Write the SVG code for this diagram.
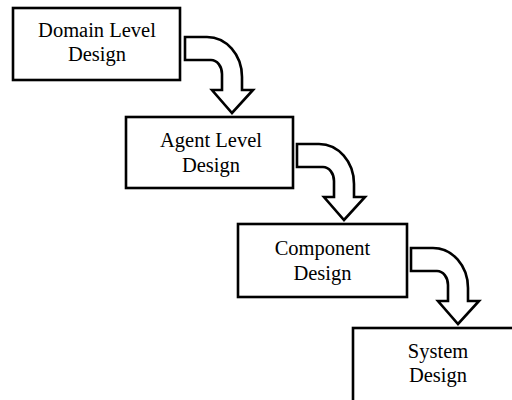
<svg xmlns="http://www.w3.org/2000/svg" xmlns:xlink="http://www.w3.org/1999/xlink" width="512" height="400" viewBox="0 0 512 400">
<style>
.box{fill:#fff;stroke:#000;stroke-width:2.6}
.lbl{font-family:"Liberation Serif","Times New Roman",serif;font-size:20.5px;fill:#000;text-anchor:middle}
.arr{fill:#fff;stroke:#000;stroke-width:2.6;stroke-linejoin:miter}
</style>
<defs>
<path id="bend" d="M0,0 H22 A35,40 0 0 1 57,40 V53 H68 L47,76 L27,53 H37 V37 A11,14 0 0 0 26,23 H0 Z"/>
</defs>
<rect width="512" height="400" fill="#fff"/>
<g id="connectors">
<use xlink:href="#bend" href="#bend" class="arr" x="185" y="37"/>
<use xlink:href="#bend" href="#bend" class="arr" x="297" y="144"/>
<use xlink:href="#bend" href="#bend" class="arr" x="411" y="248"/>
</g>
<g id="domain">
<rect class="box" x="13" y="8" width="167" height="72"/>
<text class="lbl" x="97" y="37">Domain Level</text>
<text class="lbl" x="97" y="61">Design</text>
</g>
<g id="agent">
<rect class="box" x="126" y="117" width="167" height="71"/>
<text class="lbl" x="211" y="147">Agent Level</text>
<text class="lbl" x="211" y="172">Design</text>
</g>
<g id="component">
<rect class="box" x="238" y="224" width="169" height="73"/>
<text class="lbl" x="322.5" y="255">Component</text>
<text class="lbl" x="322.5" y="280">Design</text>
</g>
<g id="system">
<rect class="box" x="353" y="328" width="200" height="100"/>
<text class="lbl" x="438" y="358">System</text>
<text class="lbl" x="438" y="382">Design</text>
</g>
</svg>
